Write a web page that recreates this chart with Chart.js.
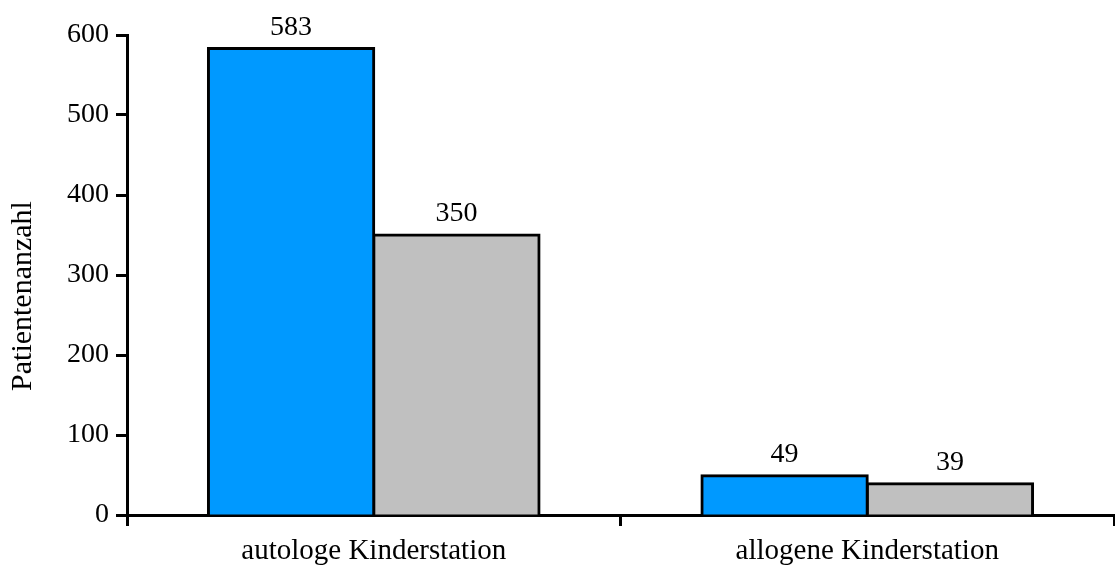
<!DOCTYPE html>
<html>
<head>
<meta charset="utf-8">
<script src="https://cdn.jsdelivr.net/npm/chart.js@4/dist/chart.umd.min.js"></script>
<style>
    html, body { margin: 0; padding: 0; background: #fff; }
</style>
</head>
<body>
<canvas id="patientChart" width="1115" height="568"></canvas>
<script>
// Daten
const stations = ['autologe Kinderstation', 'allogene Kinderstation'];
const serieBlau = [583, 49];
const serieGrau = [350, 39];
const yTicks = [0, 100, 200, 300, 400, 500, 600];
const yTitel = 'Patientenanzahl';

const familie = '"Liberation Serif", "Times New Roman", serif';
const schrift = { family: familie, size: 28 };

// Werte über den Balken + Achsentitel
const werteLabels = {
    id: 'werteLabels',
    afterDatasetsDraw(chart) {
        const ctx = chart.ctx;
        ctx.save();
        ctx.font = `${schrift.size}px ${familie}`;
        ctx.fillStyle = '#000';
        ctx.textAlign = 'center';
        ctx.textBaseline = 'alphabetic';
        chart.data.datasets.forEach((ds, i) => {
            chart.getDatasetMeta(i).data.forEach((bar, j) => {
                ctx.fillText(ds.data[j], bar.x, bar.y - 14);
            });
        });
        // y-Achsentitel
        ctx.translate(23, 296);
        ctx.rotate(-Math.PI / 2);
        ctx.font = `30px ${familie}`;
        ctx.textBaseline = 'middle';
        ctx.fillText(yTitel, 0, 0);
        ctx.restore();
    }
};

new Chart(document.getElementById('patientChart').getContext('2d'), {
    type: 'bar',
    data: {
        labels: stations,
        datasets: [{
            data: serieBlau,
            backgroundColor: '#0099ff',
            borderColor: '#000',
            borderWidth: 3,
            inflateAmount: 1.5
        }, {
            data: serieGrau,
            backgroundColor: '#c0c0c0',
            borderColor: '#000',
            borderWidth: 3,
            inflateAmount: 1.5
        }]
    },
    options: {
        responsive: false,
        animation: false,
        layout: { padding: { top: 35, right: 1, left: 0, bottom: 0 } },
        plugins: {
            legend: { display: false },
            tooltip: { enabled: false }
        },
        datasets: {
            bar: { categoryPercentage: 0.67, barPercentage: 1 }
        },
        scales: {
            x: {
                afterFit(axis) { axis.height = 53; },
                grid: {
                    offset: true,
                    drawOnChartArea: false,
                    color: '#000',
                    tickLength: 11,
                    tickWidth: 3
                },
                border: { color: '#000', width: 3 },
                ticks: { color: '#000', font: { family: familie, size: 29 }, padding: 8 }
            },
            y: {
                min: 0,
                max: 600,
                afterFit(axis) { axis.width = 127; },
                afterBuildTicks(axis) { axis.ticks = yTicks.map(v => ({ value: v })); },
                grid: {
                    drawOnChartArea: false,
                    color: '#000',
                    tickLength: 11,
                    tickWidth: 3
                },
                border: { color: '#000', width: 3 },
                ticks: { color: '#000', font: schrift, padding: 7 }
            }
        }
    },
    plugins: [werteLabels]
});
</script>
</body>
</html>
